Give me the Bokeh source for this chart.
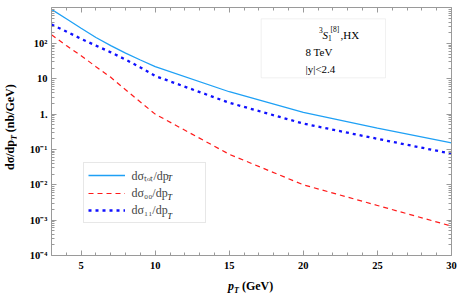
import math
from bokeh.plotting import figure
from bokeh.models import (FixedTicker, LogAxis, LinearAxis, Label, Legend, LegendItem,
                          BoxAnnotation, CustomJSTickFormatter, Div)
from bokeh.layouts import row, column
from bokeh.embed import file_html
from bokeh.resources import INLINE

# ---------------- data ----------------
pt = [3, 4, 5, 6, 7, 8, 9, 10, 15, 20, 25, 30]
sigma_tot = [919, 500, 270, 147, 87, 53, 34, 22, 4.3, 1.12, 0.40, 0.153]
sigma_00 = [176, 87, 45, 22, 11, 4.9, 2.2, 1.0, 0.073, 0.010, 0.0026, 0.00068]
sigma_11 = [344, 218, 135, 87, 56, 35, 21, 12, 2.1, 0.54, 0.20, 0.076]

x_ticks = [5, 10, 15, 20, 25, 30]
x_minor = list(range(3, 31))
y_ticks = [1e-4, 1e-3, 1e-2, 1e-1, 1, 10, 100]
y_tick_labels = ["10\u207b\u2074", "10\u207b\u00b3", "10\u207b\u00b2", "10\u207b\u00b9", "1.", "10", "10\u00b2"]
y_minor = [m * 10.0 ** e for e in range(-4, 3) for m in range(2, 10)]

legend_labels = ["d\u03c3\u209c\u2092\u209c/dp", "d\u03c3\u2080\u2080/dp", "d\u03c3\u2081\u2081/dp"]

SERIF = "Liberation Serif"
AX = "#9a9a9a"

W, H = 463, 297
YDIV_W = 16
XDIV_H = 20
FIG_W = W - YDIV_W
FIG_H = H - XDIV_H
p = figure(width=FIG_W, height=FIG_H, y_axis_type="log", x_range=(3, 30), y_range=(1e-4, 1040),
           output_backend="svg", toolbar_location=None,
           min_border_left=51 - YDIV_W, min_border_right=W - 451, min_border_top=7,
           min_border_bottom=FIG_H - 255)
p.outline_line_color = None
p.grid.visible = False
p.background_fill_color = "white"
p.border_fill_color = "white"

def style_axis(ax, labels=True):
    ax.axis_line_color = AX
    ax.major_tick_line_color = AX
    ax.minor_tick_line_color = AX
    ax.major_tick_in = 5
    ax.major_tick_out = 0
    ax.minor_tick_in = 3
    ax.minor_tick_out = 0
    ax.major_label_text_font = SERIF
    ax.major_label_text_font_style = "bold"
    ax.major_label_text_font_size = "10.5px"
    ax.major_label_text_color = "black"
    if not labels:
        ax.formatter = CustomJSTickFormatter(code="return ''")
        ax.major_label_standoff = 0
        ax.axis_label_standoff = 0
        ax.major_label_text_font_size = "0px"

xt = FixedTicker(ticks=x_ticks, minor_ticks=x_minor)
yt = FixedTicker(ticks=y_ticks, minor_ticks=y_minor)

p.xaxis.ticker = xt
p.yaxis.ticker = yt
p.yaxis.major_label_overrides = {v: s for v, s in zip(y_ticks, y_tick_labels)}
style_axis(p.xaxis[0])
style_axis(p.yaxis[0])
p.xaxis.major_label_standoff = 6
p.yaxis.major_label_standoff = 4

top = LinearAxis(ticker=xt)
style_axis(top, labels=False)
p.add_layout(top, "above")
right = LogAxis(ticker=yt)
style_axis(right, labels=False)
p.add_layout(right, "right")

r_tot = p.line(pt, sigma_tot, line_color="#1ea0f5", line_width=1.3)
r_00 = p.line(pt, sigma_00, line_color="#ff1a1a", line_width=1.2, line_dash="5 4")
r_11 = p.line(pt, sigma_11, line_color="#1010ff", line_width=2.3, line_dash="3 4")

# ---- helpers: image coords -> frame screen coords ----
FL, FB = 51, 255
def sx(ix):
    return ix - FL
def sy(iy):
    return FB - iy

def lab(text, ix, iy, size, style="normal", angle=0.0, align="left", base="alphabetic"):
    p.add_layout(Label(x=sx(ix), y=sy(iy), x_units="screen", y_units="screen", text=text,
                       text_font=SERIF, text_font_size=f"{size}px", text_font_style=style,
                       text_color="black", angle=angle, text_align=align, text_baseline=base))

# legend
leg = Legend(items=[LegendItem(label=legend_labels[0], renderers=[r_tot]),
                    LegendItem(label=legend_labels[1], renderers=[r_00]),
                    LegendItem(label=legend_labels[2], renderers=[r_11])],
             location=(sx(82.5), sy(222.5)))
leg.border_line_color = "#d0d0d0"
leg.background_fill_alpha = 0
leg.glyph_width = 37
leg.glyph_height = 14
leg.label_height = 14
leg.label_width = 69
leg.padding = 4
leg.spacing = 2
leg.margin = 0
leg.label_standoff = 7
leg.label_text_font = SERIF
leg.label_text_font_size = "12px"
p.add_layout(leg, "center")
for iy in (178, 197, 216):
    lab("T", 167, iy, 8, style="italic")

# text box
p.add_layout(BoxAnnotation(left=sx(260.7), right=sx(385), top=sy(18.3), bottom=sy(77.3),
                           left_units="screen", right_units="screen", top_units="screen",
                           bottom_units="screen", fill_alpha=0, line_color="#d0d0d0", line_width=1))
lab("3", 318.5, 29, 7.5)
lab("S", 322, 34, 11, style="italic")
lab("1", 327.5, 37, 7.5)
lab("[8]", 330, 28.5, 7.5)
lab(",HX", 340, 34, 11)
lab("8 TeV", 305, 51, 11)
lab("|y|<2.4", 305, 68, 11)

# axis titles as HTML text (with real subscripts)
FONT = "font-family:'Liberation Serif',serif;font-weight:bold;font-size:12px;line-height:12px;white-space:nowrap;color:black;"
SUB = "font-size:8px;font-style:italic;vertical-align:-3px;"
ylab_html = (f'<div style="position:relative;width:{YDIV_W}px;height:{H}px;">'
             f'<div style="position:absolute;left:4px;top:170px;transform:rotate(-90deg);'
             f'transform-origin:0 0;{FONT}">d\u03c3/dp<span style="{SUB}">T</span> (nb/GeV)</div></div>')
xlab_html = (f'<div style="position:relative;width:{FIG_W}px;height:{XDIV_H}px;">'
             f'<div style="position:absolute;left:{228 - YDIV_W}px;top:3px;{FONT}">'
             f'<i>p</i><span style="{SUB}">T</span> (GeV)</div></div>')
ydiv = Div(text=ylab_html, width=YDIV_W, height=H, margin=0)
xdiv = Div(text=xlab_html, width=FIG_W, height=XDIV_H, margin=0)

layout = row(ydiv, column(p, xdiv, spacing=0), spacing=0)
open("out.html", "w").write(file_html(layout, INLINE))
